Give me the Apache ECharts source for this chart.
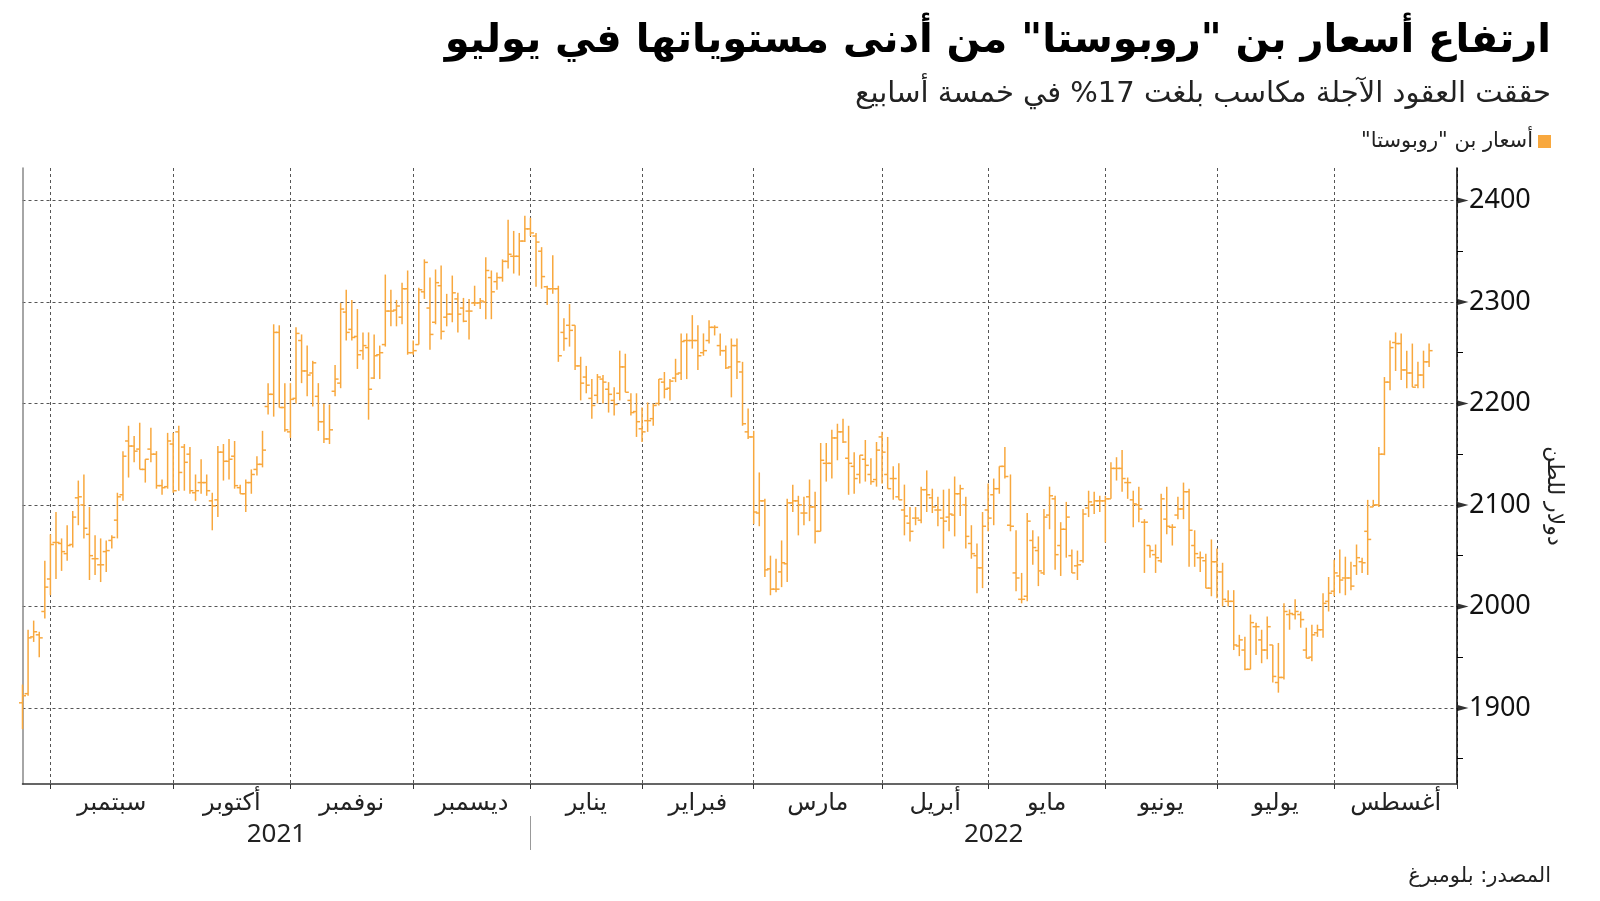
<!DOCTYPE html>
<html><head><meta charset="utf-8">
<script src="https://cdn.jsdelivr.net/npm/echarts@6/dist/echarts.min.js"></script>
<style>html,body{margin:0;padding:0;background:#fff}#c{width:1600px;height:901px}</style>
</head><body><div id="c"></div>
<script>
// ---- data (ICE robusta futures, USD/tonne), one entry per trading day from 2021-08-24 ----
const openP = [1905,1914,1970,1972,1995,2027,2063,2062,2052,2061,2107,2100,2071,2047,2041,2054,2065,2085,2110,2163,2158,2155,2135,2155,2150,2119,2118,2160,2172,2157,2150,2112,2122,2122,2104,2105,2152,2143,2148,2117,2111,2122,2135,2140,
2197,2209,2270,2196,2172,2205,2262,2232,2230,2207,2182,2165,2212,2220,2290,2273,2266,2252,2255,2225,2248,2258,2291,2292,2285,2313,2250,2258,2310,2294,2280,2316,2285,2288,2303,2294,2291,2299,2299,2300,2324,2320,
2324,2340,2345,2345,2360,2372,2365,2350,2315,2313,2313,2270,2277,2277,2237,2226,2205,2208,2224,2214,2203,2210,2236,2203,2192,2175,2183,2185,2200,2221,2215,2225,2230,2262,2262,2262,2250,2262,2275,2257,2252,2236,2257,2231,2172,
2167,2092,2104,2037,2017,2034,2042,2102,2104,2092,2108,2098,2074,2141,2141,2166,2172,2146,2138,2130,2145,2130,2125,2167,2130,2126,2108,2095,2082,2087,2085,2115,2107,2095,2087,2088,2090,2111,2100,2062,2050,2038,
2095,2110,2116,2138,2080,2033,2007,2010,2065,2055,2033,2090,2106,2060,2076,2050,2040,2045,2097,2100,2104,2104,2106,2136,2136,2122,2105,2100,2083,2060,2051,2045,2086,2078,2090,2096,2113,2060,2048,2045,2018,2044,2034,
2005,2005,1961,1957,1938,1980,1967,1957,1962,1925,1930,1992,1992,1992,1957,1950,1974,1977,2005,2015,2030,2028,2028,2040,2044,2074,2098,2100,2150,2221,2260,2259,2233,2230,2218,2228,2241];
const highP = [1923,1977,1986,1975,2045,2071,2093,2067,2080,2094,2124,2130,2098,2070,2067,2065,2070,2112,2153,2178,2168,2181,2145,2176,2153,2125,2171,2171,2178,2160,2157,2130,2145,2130,2112,2158,2160,2165,2163,2120,2125,2135,2148,2173,
2220,2278,2277,2220,2220,2275,2268,2257,2242,2220,2200,2199,2238,2299,2312,2302,2293,2270,2270,2268,2257,2327,2312,2302,2319,2331,2262,2314,2342,2324,2332,2336,2308,2326,2309,2304,2303,2316,2304,2344,2331,2329,
2342,2381,2370,2368,2385,2383,2368,2354,2316,2346,2316,2284,2298,2277,2246,2237,2224,2229,2228,2221,2216,2252,2249,2210,2210,2196,2201,2200,2224,2231,2224,2244,2269,2269,2287,2277,2269,2282,2277,2269,2257,2264,2264,2241,2195,
2173,2132,2106,2050,2047,2065,2106,2120,2109,2108,2125,2113,2161,2161,2174,2180,2185,2178,2152,2149,2164,2146,2162,2172,2167,2138,2141,2120,2098,2098,2118,2134,2116,2108,2115,2116,2128,2120,2108,2080,2062,2093,
2121,2126,2138,2157,2130,2075,2033,2092,2075,2069,2096,2118,2109,2083,2103,2056,2055,2096,2114,2113,2109,2109,2142,2147,2154,2127,2114,2118,2086,2060,2061,2111,2118,2081,2108,2122,2116,2075,2054,2052,2066,2057,2043,
2016,2016,1972,1970,1992,1984,1977,1990,1962,1964,2003,1997,2007,1995,1979,1982,1982,2013,2029,2046,2056,2049,2044,2061,2048,2105,2105,2157,2226,2262,2270,2269,2252,2259,2241,2252,2259];
const lowP = [1879,1912,1965,1950,1988,2011,2027,2035,2045,2058,2080,2067,2026,2031,2024,2034,2057,2067,2104,2127,2142,2135,2122,2142,2116,2110,2116,2112,2114,2114,2111,2104,2111,2109,2075,2088,2124,2125,2116,2111,2093,2111,2129,2137,
2189,2187,2196,2172,2166,2200,2220,2207,2197,2173,2161,2160,2207,2215,2262,2262,2234,2243,2184,2224,2224,2256,2276,2276,2278,2248,2248,2258,2303,2253,2278,2263,2276,2280,2270,2280,2263,2296,2293,2283,2283,2312,
2320,2333,2328,2326,2359,2365,2315,2313,2297,2308,2241,2252,2256,2233,2203,2210,2185,2200,2200,2191,2188,2203,2211,2188,2167,2162,2172,2178,2198,2205,2203,2221,2223,2224,2254,2233,2247,2259,2267,2247,2234,2206,2224,2178,2165,
2081,2079,2029,2011,2014,2019,2024,2093,2070,2080,2084,2062,2074,2123,2126,2144,2161,2110,2111,2121,2123,2120,2118,2121,2116,2105,2105,2070,2064,2080,2082,2093,2092,2079,2057,2074,2069,2089,2057,2047,2013,2018,
2074,2080,2111,2126,2074,2015,2003,2005,2041,2020,2031,2076,2036,2030,2048,2033,2026,2043,2088,2091,2093,2063,2106,2124,2113,2106,2078,2083,2033,2048,2033,2043,2071,2060,2086,2086,2039,2039,2034,2018,2010,2008,2000,
2000,1957,1951,1937,1938,1952,1944,1948,1925,1915,1928,1977,1987,1979,1949,1946,1970,1969,1995,2010,2013,2011,2016,2031,2033,2031,2098,2098,2149,2213,2232,2223,2215,2216,2215,2215,2236];
const closeP = [1912,1969,1975,1969,2019,2061,2063,2054,2060,2088,2108,2077,2050,2047,2041,2055,2068,2108,2148,2158,2153,2135,2145,2150,2119,2117,2163,2114,2132,2142,2114,2114,2122,2114,2099,2152,2143,2145,2119,2111,2122,2130,2140,2154,
2209,2270,2196,2174,2204,2269,2232,2228,2240,2182,2165,2174,2224,2293,2270,2265,2248,2257,2214,2247,2250,2291,2291,2296,2313,2250,2252,2312,2339,2268,2319,2271,2288,2309,2288,2281,2291,2299,2301,2331,2310,2324,
2340,2347,2345,2360,2372,2368,2359,2325,2313,2313,2247,2264,2272,2237,2220,2218,2198,2226,2221,2209,2199,2236,2211,2191,2182,2172,2183,2198,2224,2214,2222,2229,2261,2262,2262,2247,2252,2275,2275,2252,2235,2257,2241,2180,2167,
2093,2104,2036,2017,2017,2043,2102,2104,2100,2092,2098,2074,2144,2141,2166,2172,2162,2141,2126,2149,2139,2123,2154,2152,2116,2126,2105,2089,2074,2087,2115,2110,2098,2095,2084,2091,2111,2116,2069,2052,2038,2079,
2087,2116,2138,2128,2079,2028,2007,2084,2058,2035,2088,2109,2051,2076,2088,2033,2041,2091,2103,2104,2104,2106,2136,2136,2126,2122,2101,2096,2083,2055,2048,2106,2079,2078,2096,2113,2075,2052,2048,2018,2044,2034,2007,
2005,1962,1967,1938,1984,1980,1957,1980,1931,1930,1995,1993,1995,1987,1949,1972,1977,2003,2013,2033,2026,2028,2020,2048,2043,2066,2100,2150,2221,2255,2259,2233,2230,2216,2228,2241,2252];

const seriesName = 'أسعار بن "روبوستا"\u200F';
const monthNames = {'2021-09':'سبتمبر','2021-10':'أكتوبر','2021-11':'نوفمبر','2021-12':'ديسمبر','2022-01':'يناير','2022-02':'فبراير','2022-03':'مارس','2022-04':'أبريل','2022-05':'مايو','2022-06':'يونيو','2022-07':'يوليو','2022-08':'أغسطس'};
const yTicks = [1900, 2000, 2100, 2200, 2300, 2400];
const yMinorTicks = [1850, 1950, 2050, 2150, 2250, 2350];
const holidays = ['2021-08-30','2021-12-27','2021-12-28','2022-01-03','2022-04-15','2022-04-18','2022-05-02','2022-06-02','2022-06-03','2022-08-29'];
const nCategories = 258;

// ---- trading-day categories ----
const dates = [];
let t = Date.UTC(2021, 7, 24);
while (dates.length < nCategories) {
  const d = new Date(t), s = d.toISOString().slice(0, 10), w = d.getUTCDay();
  if (w !== 0 && w !== 6 && holidays.indexOf(s) < 0) dates.push(s);
  t += 86400000;
}
const N = dates.length;
const monthStarts = [];
for (let i = 1; i < N; i++) if (dates[i].slice(0, 7) !== dates[i - 1].slice(0, 7)) monthStarts.push(i);
const monthStartSet = new Set(monthStarts);
const monthCenters = [], monthLabels = [];
monthStarts.forEach((s, k) => {
  const e = k + 1 < monthStarts.length ? monthStarts[k + 1] : N - 1;
  monthCenters.push((s + e) / 2);
  monthLabels.push(monthNames[dates[s].slice(0, 7)]);
});
const yearStart = dates.findIndex(d => d.startsWith('2022'));
const yearCenters = [yearStart / 2, (yearStart + N - 1) / 2];
const yearLabels = ['2021', '2022'];

const ohlc = openP.map((o, i) => [i, o, closeP[i], lowP[i], highP[i]]);
const COLOR = '#f8a83e';

const chart = echarts.init(document.getElementById('c'), null, {renderer: 'canvas'});
chart.setOption({
  animation: false,
  backgroundColor: '#fff',
  title: [
    {text: 'ارتفاع أسعار بن "روبوستا" من أدنى مستوياتها في يوليو', right: 44, top: 17,
      textStyle: {fontFamily: 'DejaVu Sans', fontWeight: 'bold', fontSize: 40, color: '#000'}},
    {text: 'حققت العقود الآجلة مكاسب بلغت 17% في خمسة أسابيع', right: 44, top: 75,
      textStyle: {fontFamily: 'DejaVu Sans', fontWeight: 'normal', fontSize: 29, color: '#222'}},
    {text: 'المصدر: بلومبرغ', right: 44, top: 861,
      textStyle: {fontFamily: 'DejaVu Sans', fontWeight: 'normal', fontSize: 21, color: '#222'}}
  ],
  legend: {
    right: 44, top: 126, align: 'right', itemWidth: 13, itemHeight: 13, icon: 'rect',
    textStyle: {fontFamily: 'DejaVu Sans', fontSize: 21, color: '#222'},
    data: [{name: seriesName, icon: 'rect'}]
  },
  grid: {left: 22.5, right: 143, top: 168, bottom: 117, containLabel: false},
  xAxis: [
    {type: 'category', data: dates, boundaryGap: false, position: 'bottom',
      axisLine: {onZero: false, lineStyle: {color: '#333', width: 1.5}},
      axisTick: {interval: i => monthStartSet.has(i), length: 5, lineStyle: {color: '#333'}},
      axisLabel: {show: false},
      splitLine: {show: true, interval: i => monthStartSet.has(i), lineStyle: {type: [3, 3], color: '#555', width: 1}}},
    {type: 'value', min: 0, max: N - 1, position: 'bottom',
      axisLine: {show: false, onZero: false}, axisTick: {show: false}, splitLine: {show: false},
      axisLabel: {customValues: monthCenters, margin: 8, fontFamily: 'DejaVu Sans', fontSize: 24, color: '#222',
        formatter: v => monthLabels[monthCenters.indexOf(v)] || ''}},
    {type: 'value', min: 0, max: N - 1, position: 'bottom', offset: 32,
      axisLine: {show: false, onZero: false}, splitLine: {show: false},
      axisTick: {show: true, customValues: [yearStart], length: 34, lineStyle: {color: '#999'}},
      axisLabel: {customValues: yearCenters, margin: 6, fontFamily: 'Noto Sans', fontSize: 26, color: '#222',
        formatter: v => yearLabels[yearCenters.indexOf(v)] || ''}}
  ],
  yAxis: [
    {type: 'value', position: 'right', min: 1825, max: 2432,
      axisLine: {show: true, onZero: false, lineStyle: {color: '#000', width: 1.5}},
      axisTick: {show: true, inside: false, customValues: yMinorTicks, length: 6, lineStyle: {color: '#000'}},
      axisLabel: {customValues: yTicks, margin: 12, fontFamily: 'Noto Sans', fontSize: 27, color: '#111',
        formatter: v => String(v)},
      splitLine: {show: false},
      name: 'دولار للطن', nameLocation: 'middle', nameGap: 86, nameRotate: -90,
      nameTextStyle: {fontFamily: 'DejaVu Sans', fontSize: 22, color: '#222', padding: [0, 0, 0, 40]}},
    {type: 'value', position: 'left', min: 1825, max: 2432,
      axisLine: {show: true, onZero: false, lineStyle: {color: '#888', width: 1.5}},
      axisTick: {show: false, customValues: yTicks}, axisLabel: {show: false},
      splitLine: {show: true, lineStyle: {type: [3, 3], color: '#555', width: 1}}}
  ],
  series: [
    {name: seriesName, type: 'custom', xAxisIndex: 0, yAxisIndex: 0, data: ohlc,
      encode: {x: 0, y: [1, 2, 3, 4]}, itemStyle: {color: COLOR},
      renderItem: (params, api) => {
        const x = api.value(0);
        const o = api.coord([x, api.value(1)]);
        const c = api.coord([x, api.value(2)]);
        const l = api.coord([x, api.value(3)]);
        const h = api.coord([x, api.value(4)]);
        const st = {stroke: COLOR, lineWidth: 1.5};
        return {type: 'group', children: [
          {type: 'line', shape: {x1: h[0], y1: h[1], x2: l[0], y2: l[1]}, style: st},
          {type: 'line', shape: {x1: o[0] - 3.5, y1: o[1], x2: o[0], y2: o[1]}, style: st},
          {type: 'line', shape: {x1: c[0], y1: c[1], x2: c[0] + 3.5, y2: c[1]}, style: st}
        ]};
      }},
    {name: 'ticks', type: 'scatter', xAxisIndex: 0, yAxisIndex: 0, silent: true, clip: false,
      data: yTicks.map(v => [N - 1, v]), symbol: 'triangle', symbolSize: [6, 11], symbolRotate: -90,
      symbolOffset: [6, 0], itemStyle: {color: '#000'}, z: 5}
  ]
});
</script></body></html>
